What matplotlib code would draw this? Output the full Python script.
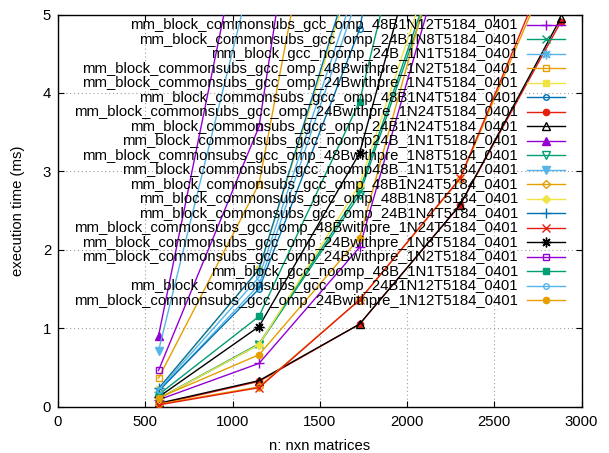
import matplotlib
matplotlib.use('Agg')
import matplotlib.pyplot as plt
from matplotlib.lines import Line2D

plt.rcParams['font.family'] = ['Liberation Sans', 'DejaVu Sans']
FS = 10.7

n_values = [576, 1152, 1728, 2304, 2880]

labels = [
    "mm_block_commonsubs_gcc_omp_48B1N12T5184_0401",
    "mm_block_commonsubs_gcc_omp_24B1N8T5184_0401",
    "mm_block_gcc_noomp_24B_1N1T5184_0401",
    "mm_block_commonsubs_gcc_omp_48Bwithpre_1N2T5184_0401",
    "mm_block_commonsubs_gcc_omp_24Bwithpre_1N4T5184_0401",
    "mm_block_commonsubs_gcc_omp_48B1N4T5184_0401",
    "mm_block_commonsubs_gcc_omp_24Bwithpre_1N24T5184_0401",
    "mm_block_commonsubs_gcc_omp_24B1N24T5184_0401",
    "mm_block_commonsubs_gcc_noomp24B_1N1T5184_0401",
    "mm_block_commonsubs_gcc_omp_48Bwithpre_1N8T5184_0401",
    "mm_block_commonsubs_gcc_noomp48B_1N1T5184_0401",
    "mm_block_commonsubs_gcc_omp_48B1N24T5184_0401",
    "mm_block_commonsubs_gcc_omp_48B1N8T5184_0401",
    "mm_block_commonsubs_gcc_omp_24B1N4T5184_0401",
    "mm_block_commonsubs_gcc_omp_48Bwithpre_1N24T5184_0401",
    "mm_block_commonsubs_gcc_omp_24Bwithpre_1N8T5184_0401",
    "mm_block_commonsubs_gcc_omp_24Bwithpre_1N2T5184_0401",
    "mm_block_gcc_noomp_48B_1N1T5184_0401",
    "mm_block_commonsubs_gcc_omp_24B1N12T5184_0401",
    "mm_block_commonsubs_gcc_omp_24Bwithpre_1N12T5184_0401",
]

s01 = [0.085, 0.55, 2.03, 6.5, 14.0]
s02 = [0.10, 0.80, 2.75, 6.5, 12.7]
s03 = [0.19, 1.55, 5.3, 12.5, 24.5]
s04 = [0.36, 2.84, 9.6, 23.0, 44.0]
s05 = [0.22, 1.75, 5.8, 13.7, 27.0]
s06 = [0.20, 1.50, 4.81, 11.5, 22.5]
s07 = [0.03, 0.32, 1.05, 2.57, 4.90]
s08 = [0.04, 0.33, 1.05, 2.57, 4.95]
s09 = [0.90, 7.2, 24.0, 57.0, 111.0]
s10 = [0.10, 0.79, 2.70, 6.4, 12.5]
s11 = [0.71, 5.9, 20.0, 47.0, 92.0]
s12 = [0.03, 0.25, 1.36, 2.90, 5.9]
s13 = [0.10, 0.79, 2.83, 6.7, 13.0]
s14 = [0.23, 1.75, 5.9, 14.0, 27.0]
s15 = [0.02, 0.24, 1.36, 2.91, 6.0]
s16 = [0.12, 1.02, 3.23, 7.9, 15.4]
s17 = [0.46, 3.57, 12.0, 28.0, 55.0]
s18 = [0.15, 1.15, 3.89, 9.2, 18.0]
s19 = [0.21, 1.65, 5.5, 13.0, 25.5]
s20 = [0.11, 0.66, 2.15, 6.8, 13.3]

series = [s01, s02, s03, s04, s05, s06, s07, s08, s09, s10,
          s11, s12, s13, s14, s15, s16, s17, s18, s19, s20]

palette = ['#9400d3', '#009e73', '#56b4e9', '#e69f00',
           '#f0e442', '#0072b2', '#e51e10', '#000000']

# gnuplot point types 1..13: (marker, filled, size)
ptypes = [
    ('+', False, 6.5),
    ('x', False, 5.5),
    ((8, 2, 0), False, 7),
    ('s', False, 5),
    ('s', True, 5),
    ('o', False, 4),
    ('o', True, 4.5),
    ('^', False, 5.5),
    ('^', True, 5.5),
    ('v', False, 5.5),
    ('v', True, 5.5),
    ('D', False, 4),
    ('D', True, 4),
]

W, H = 609, 453
fig = plt.figure(figsize=(W / 100, H / 100), dpi=100)
ax_l, ax_r, ax_t, ax_b = 58, 581.5, 14.5, 406.5
ax = fig.add_axes([ax_l / W, 1 - ax_b / H, (ax_r - ax_l) / W, (ax_b - ax_t) / H])

def style(i):
    color = palette[i % 8]
    m, filled, ms = ptypes[i % 13]
    kw = dict(color=color, lw=1.0, marker=m, markersize=ms,
              markeredgecolor=color, markeredgewidth=1.0)
    kw['markerfacecolor'] = color if filled else 'none'
    return kw

for i, vals in enumerate(series):
    ax.plot(n_values, vals, **style(i), zorder=3)

ax.set_xlim(0, 3000)
ax.set_ylim(0, 5)
ax.set_xticks([0, 500, 1000, 1500, 2000, 2500, 3000])
ax.set_yticks([0, 1, 2, 3, 4, 5])
ax.tick_params(direction='in', length=4, width=0.8, top=True, right=True,
               labelsize=FS, colors='black', pad=6)
ax.tick_params(axis='y', pad=5)
ax.grid(True, linestyle=(0, (1, 2.5)), color='#a0a0a0', lw=0.8)
for sp in ax.spines.values():
    sp.set_linewidth(1.0)
    sp.set_color('black')

ax.set_xlabel("n: nxn matrices", fontsize=FS)
ax.xaxis.label.set_va('center')
ax.xaxis.set_label_coords(0.5, -(445.5 - ax_b) / (ax_b - ax_t))
ax.set_ylabel("execution time (ms)", fontsize=FS)
ax.yaxis.label.set_va('center')
ax.yaxis.set_label_coords((18.5 - ax_l) / (ax_r - ax_l), 0.5)

# key (gnuplot style: text right-aligned, sample to the right)
text_right = 518
samp_x0, samp_x1 = 527, 565
row0_line = 24.8
row0_base = 29.3
pitch = 14.5
for i, lab in enumerate(labels):
    yl = 1 - (row0_line + pitch * i) / H
    yb = 1 - (row0_base + pitch * i) / H
    fig.text(text_right / W, yb, lab, ha='right', va='baseline', fontsize=FS, zorder=5)
    kw = style(i)
    line = Line2D([samp_x0 / W, samp_x1 / W], [yl, yl], transform=fig.transFigure,
                  color=kw['color'], lw=1.0, zorder=5)
    fig.add_artist(line)
    mk = Line2D([(samp_x0 + samp_x1) / 2 / W], [yl], transform=fig.transFigure,
                linestyle='none', marker=kw['marker'], markersize=kw['markersize'],
                markeredgecolor=kw['markeredgecolor'], markerfacecolor=kw['markerfacecolor'],
                markeredgewidth=1.0, zorder=5)
    fig.add_artist(mk)

fig.savefig('out.png', dpi=100)
